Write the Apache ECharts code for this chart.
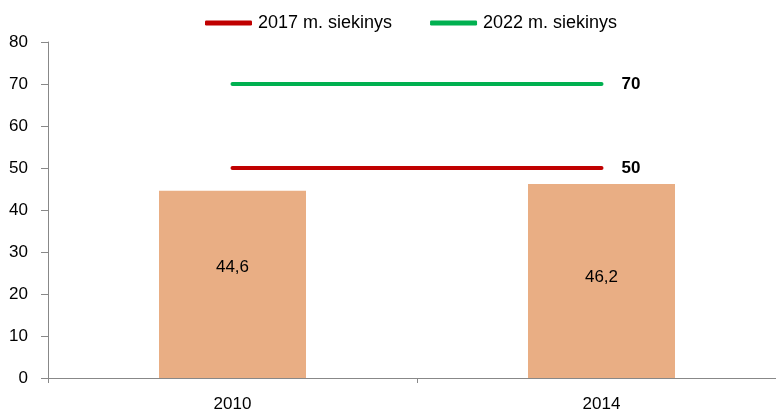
<!DOCTYPE html>
<html>
<head>
<meta charset="utf-8">
<script src="https://cdn.jsdelivr.net/npm/echarts@6/dist/echarts.min.js"></script>
<style>
  html, body { margin: 0; padding: 0; background: #fff; overflow: hidden; }
  /* the plot continues a few pixels past the right edge of the window */
  #chart { width: 786px; height: 413px; }
</style>
</head>
<body>
<div id="chart"></div>
<script>
// Categories and values
const years = ['2010', '2014'];
const actual = [44.6, 46.2];
const target2017 = [50, 50];
const target2022 = [70, 70];
const seriesNames = ['2017 m. siekinys', '2022 m. siekinys'];

const FONT = '"Liberation Sans", sans-serif';
const fmt = v => String(v).replace('.', ',');

// value labels sit a little above the bar middle, each by its own amount
const labelLift = [-17, -4];
const barData = actual.map((v, i) => ({ value: v, label: { offset: [0, labelLift[i]] } }));

const endLabel = {
  show: true,
  distance: 20,
  color: '#000',
  fontWeight: 'bold',
  fontSize: 17,
  fontFamily: FONT,
  formatter: p => fmt(p.value)
};

const chart = echarts.init(document.getElementById('chart'), null, { renderer: 'canvas' });

chart.setOption({
  animation: false,
  textStyle: { fontFamily: FONT },
  legend: {
    top: 9,
    left: 200,
    itemWidth: 47,
    itemHeight: 5,
    itemGap: 38,
    icon: 'roundRect',
    data: seriesNames,
    textStyle: { fontSize: 18, color: '#000', fontFamily: FONT, padding: [0, 0, 0, 1] }
  },
  grid: { left: 48, right: 0, top: 42, bottom: 33, containLabel: false },
  xAxis: {
    type: 'category',
    data: years,
    boundaryGap: true,
    axisLine: { lineStyle: { color: '#888', width: 1 } },
    axisTick: { show: true, length: 5, lineStyle: { color: '#888' } },
    axisLabel: { color: '#000', fontSize: 17, fontFamily: FONT, margin: 18 }
  },
  yAxis: {
    type: 'value',
    min: 0,
    max: 80,
    interval: 10,
    axisLine: { show: true, lineStyle: { color: '#888', width: 1 } },
    axisTick: { show: true, length: 7, lineStyle: { color: '#888' } },
    splitLine: { show: false },
    axisLabel: { color: '#000', fontSize: 17, fontFamily: FONT, margin: 20 }
  },
  series: [
    {
      type: 'bar',
      name: 'Rodiklis',
      data: barData,
      barWidth: 147,
      itemStyle: { color: '#E9AE84' },
      label: {
        show: true,
        position: 'inside',
        color: '#000',
        fontSize: 17,
        fontFamily: FONT,
        formatter: p => fmt(p.value)
      }
    },
    {
      type: 'line',
      name: seriesNames[0],
      data: target2017,
      symbol: 'none',
      lineStyle: { color: '#C00000', width: 4, cap: 'round' },
      itemStyle: { color: '#C00000' },
      endLabel: endLabel
    },
    {
      type: 'line',
      name: seriesNames[1],
      data: target2022,
      symbol: 'none',
      lineStyle: { color: '#00B050', width: 4, cap: 'round' },
      itemStyle: { color: '#00B050' },
      endLabel: endLabel
    }
  ]
});
</script>
</body>
</html>
